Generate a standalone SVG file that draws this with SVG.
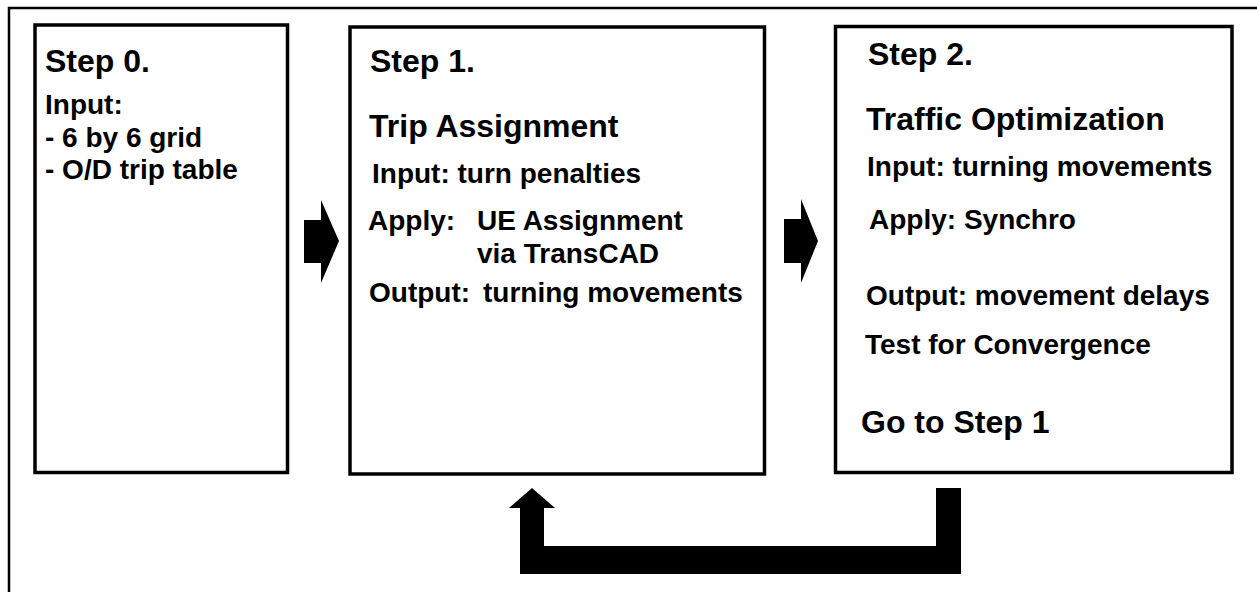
<svg xmlns="http://www.w3.org/2000/svg" width="1257" height="592" viewBox="0 0 1257 592">
<style>
.box{fill:#fff;stroke:#000;stroke-width:3.5}
.frame{fill:none;stroke:#000;stroke-width:2.5}
text{font-family:"Liberation Sans",Arial,sans-serif;font-weight:bold;fill:#000}
.t{font-size:32px}
.s{font-size:28px}
.arrow{fill:#000;stroke:none}
</style>
<rect width="1257" height="592" fill="#fff"/>
<path class="frame" d="M9,592 V8 H1257"/>
<g id="step0">
<rect class="box" x="35" y="25" width="252.5" height="447.5"/>
<text class="t" x="45" y="72">Step 0.</text>
<text class="s" x="45" y="114">Input:</text>
<text class="s" x="45" y="147">- 6 by 6 grid</text>
<text class="s" x="45" y="179">- O/D trip table</text>
</g>
<g id="step1">
<rect class="box" x="350" y="27" width="414.5" height="447"/>
<text class="t" x="370" y="72">Step 1.</text>
<text class="t" x="369" y="137">Trip Assignment</text>
<text class="s" x="372" y="183">Input: turn penalties</text>
<text class="s" x="368" y="230">Apply:</text>
<text class="s" x="477" y="230">UE Assignment</text>
<text class="s" x="477" y="263">via TransCAD</text>
<text class="s" x="369" y="302">Output:</text>
<text class="s" x="483" y="302">turning movements</text>
</g>
<g id="step2">
<rect class="box" x="835.5" y="26.5" width="396.5" height="446"/>
<text class="t" x="868" y="65">Step 2.</text>
<text class="t" x="866" y="130">Traffic Optimization</text>
<text class="s" x="867" y="176">Input: turning movements</text>
<text class="s" x="869" y="229">Apply: Synchro</text>
<text class="s" x="866" y="305">Output: movement delays</text>
<text class="s" x="865" y="354">Test for Convergence</text>
<text class="t" x="861" y="433">Go to Step 1</text>
</g>
<g id="connectors">
<polygon class="arrow" points="304,220 321,220 321,200 339,241 321,283 321,263 304,263"/>
<polygon class="arrow" points="784,219 801,219 801,199 818,241 801,283 801,263 784,263"/>
<polygon class="arrow" points="936,488 961,488 961,574 520,574 520,508 509,508 532,488 555,508 544,508 544,546 936,546"/>
</g>
</svg>
